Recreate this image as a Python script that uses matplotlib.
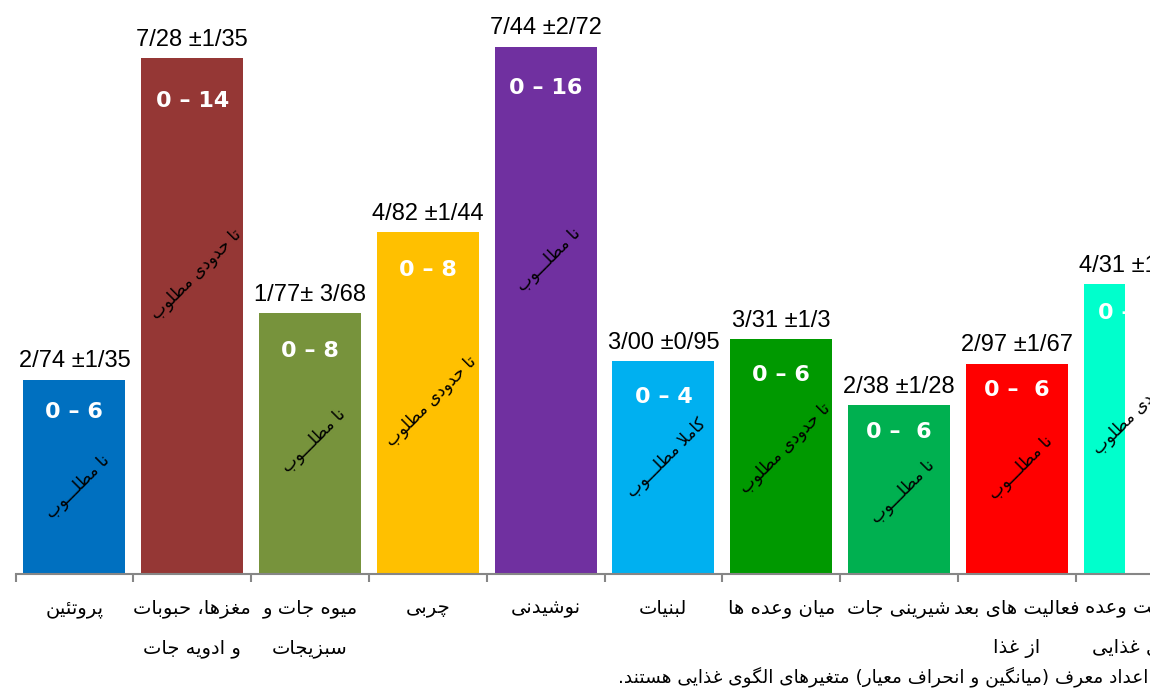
import numpy as np
import matplotlib
matplotlib.use('Agg')
import matplotlib.pyplot as plt
from matplotlib.transforms import Bbox

# chart data
categories = ['پروتئین', 'مغزها، حبوبات\nو ادویه جات', 'میوه جات و\nسبزیجات', 'چربی', 'نوشیدنی',
              'لبنیات', 'میان وعده ها', 'شیرینی جات', 'فعالیت های بعد\nاز غذا', 'رعایت وعده\nهای غذایی']
heights = [2.74, 7.28, 3.68, 4.82, 7.44, 3.00, 3.31, 2.38, 2.97, 4.09]
stat_labels = ['2/74 ±1/35', '7/28 ±1/35', '1/77± 3/68', '4/82 ±1/44', '7/44 ±2/72',
               '3/00 ±0/95', '3/31 ±1/3', '2/38 ±1/28', '2/97 ±1/67', '4/31 ±1/52']
ranges = ['0 – 6', '0 – 14', '0 – 8', '0 – 8', '0 – 16', '0 – 4', '0 – 6', '0 –  6', '0 –  6', '0 – 10']
ratings = ['نا مطلـــوب', 'تا حدودی مطلوب', 'نا مطلـــوب', 'تا حدودی مطلوب', 'نا مطلـــوب',
           'کاملا مطلـــوب', 'تا حدودی مطلوب', 'نا مطلـــوب', 'نا مطلـــوب', 'تا حدودی مطلوب']
footnote = 'اعداد معرف (میانگین و انحراف معیار) متغیرهای الگوی غذایی هستند.'

colors = ['#0070C0', '#953735', '#77933C', '#FFC000', '#7030A0',
          '#00B0F0', '#009900', '#00B050', '#FF0000', '#00FFCC']
# placement of the texts inside the bars
rating_y = [1.23, 4.23, 1.89, 2.44, 4.44, 1.64, 1.78, 1.16, 1.50, 2.33]
range_drop = [32, 43, 38, 38, 41, 36, 36, 27, 27, 29]  # px below bar top


# --- minimal arabic/persian shaping (no arabic_reshaper available) ---
DUAL = {'ئ': 0xFE89, 'ب': 0xFE8F, 'ت': 0xFE95, 'ث': 0xFE99, 'ج': 0xFE9D, 'ح': 0xFEA1,
        'خ': 0xFEA5, 'س': 0xFEB1, 'ش': 0xFEB5, 'ص': 0xFEB9, 'ض': 0xFEBD, 'ط': 0xFEC1,
        'ظ': 0xFEC5, 'ع': 0xFEC9, 'غ': 0xFECD, 'ف': 0xFED1, 'ق': 0xFED5, 'ك': 0xFED9,
        'ل': 0xFEDD, 'م': 0xFEE1, 'ن': 0xFEE5, 'ه': 0xFEE9, 'ي': 0xFEF1,
        'پ': 0xFB56, 'چ': 0xFB7A, 'ک': 0xFB8E, 'گ': 0xFB92, 'ی': 0xFBFC}
RIGHT = {'آ': 0xFE81, 'أ': 0xFE83, 'ؤ': 0xFE85, 'إ': 0xFE87, 'ا': 0xFE8D, 'ة': 0xFE93,
         'د': 0xFEA9, 'ذ': 0xFEAB, 'ر': 0xFEAD, 'ز': 0xFEAF, 'و': 0xFEED, 'ى': 0xFEEF,
         'ژ': 0xFB8A}
TATWEEL = 'ـ'


def is_dual(c):
    return c in DUAL or c == TATWEEL


def joins(c):
    return c in DUAL or c in RIGHT or c == TATWEEL


def shape_line(text):
    out = []
    i = 0
    n = len(text)
    while i < n:
        c = text[i]
        cp = i > 0 and is_dual(text[i - 1])
        if c == 'ل' and i + 1 < n and text[i + 1] == 'ا':
            out.append(chr(0xFEFC if cp else 0xFEFB))
            i += 2
            continue
        cn = i + 1 < n and joins(text[i + 1])
        if c in DUAL:
            k = (3 if cp else 2) if cn else (1 if cp else 0)
            out.append(chr(DUAL[c] + k))
        elif c in RIGHT:
            out.append(chr(RIGHT[c] + (1 if cp else 0)))
        else:
            out.append(c)
        i += 1
    return ''.join(out)[::-1].translate(str.maketrans('()', ')('))


def fa(text):
    return '\n'.join(shape_line(l) for l in text.split('\n'))


W, H = 1150, 694
fig = plt.figure(figsize=(W / 100, H / 100), dpi=100)
ax = fig.add_axes([15.5 / W, 120 / H, 1178 / W, 567 / H])

x = np.arange(len(categories))
bars = ax.bar(x, heights, width=0.866, color=colors)
ax.set_xlim(-0.5, 9.5)
ax.set_ylim(0, 8)

for s in ['top', 'right', 'left']:
    ax.spines[s].set_visible(False)
ax.spines['bottom'].set_color('#868686')
ax.spines['bottom'].set_linewidth(1.5)
ax.set_yticks([])
ax.set_xticks(np.arange(-0.5, 10, 1), minor=True)
ax.tick_params(axis='x', which='minor', length=6, width=1.5, color='#868686')
ax.set_xticks(x)
ax.set_xticklabels([fa(c) for c in categories], fontsize=14, family='DejaVu Sans')
ax.tick_params(axis='x', which='major', length=0, pad=18)
for t in ax.get_xticklabels():
    t.set_linespacing(2.35)

clip = Bbox([[0, 0], [1125, H]])
for i in range(len(categories)):
    ax.annotate(stat_labels[i], (x[i], heights[i]), xytext=(0, 9), textcoords='offset points',
                ha='center', va='baseline', fontsize=17, family=['Liberation Sans', 'DejaVu Sans'])
    t = ax.annotate(ranges[i], (x[i], heights[i]), xytext=(0, -range_drop[i] / 1.389),
                    textcoords='offset points', ha='center', va='center', color='white',
                    fontsize=16, fontweight='bold')
    ax.text(x[i] + 0.03, rating_y[i], fa(ratings[i]), rotation=45, rotation_mode='anchor',
            ha='center', va='center', fontsize=12, family='DejaVu Sans')
    if i == len(categories) - 1:
        bars[i].set_clip_box(clip)
        t.set_annotation_clip(False)
        t.set_clip_on(True)
        t.set_clip_box(clip)

fig.text(1148 / W, (H - 677) / H, fa(footnote), ha='right', va='center', fontsize=13.3,
         family='DejaVu Sans')

fig.savefig('out.png', dpi=100)
